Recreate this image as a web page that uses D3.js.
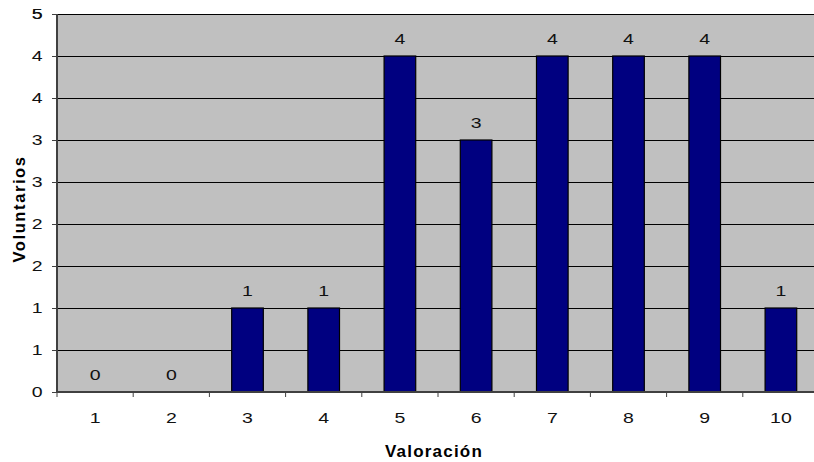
<!DOCTYPE html>
<html><head><meta charset="utf-8">
<script src="https://cdn.jsdelivr.net/npm/d3@7"></script>
<style>body{margin:0;background:#fff}svg{display:block}text{font-family:"Liberation Sans",Arial,sans-serif}</style>
</head><body><svg id="c" width="814" height="462"></svg>
<script>
const categories = ["1","2","3","4","5","6","7","8","9","10"];
const values = [0,0,1,1,4,3,4,4,4,1];
const yTicks = [0,0.5,1,1.5,2,2.5,3,3.5,4,4.5];
const xTitle = "Valoración";
const yTitle = "Voluntarios";

const svg = d3.select("#c");
const L = 57, T = 14, B = 392, bandW = 76.2;
const R = L + bandW * categories.length;
const SX = 1.3, FS = 15;
const x = d3.scaleBand().domain(categories).range([L, R]).paddingInner(0.585).paddingOuter(0.2925);
const y = d3.scaleLinear().domain([0, 4.5]).range([B, T]);
const fmt = v => String(Math.floor(v + 0.5));
const FONT = '"Liberation Sans",Arial,sans-serif';

svg.append("rect").attr("x", L).attr("y", T).attr("width", R - L).attr("height", B - T).attr("fill", "#c0c0c0");
svg.append("line").attr("x1", L).attr("x2", R).attr("y1", T + 0.5).attr("y2", T + 0.5).attr("stroke", "#808080");
svg.selectAll(".grid").data(yTicks.filter(d => d > 0)).join("line")
  .attr("x1", L).attr("x2", R).attr("y1", d => Math.round(y(d)) + 0.5).attr("y2", d => Math.round(y(d)) + 0.5)
  .attr("stroke", "#000").attr("stroke-width", 1);

svg.selectAll(".bar").data(values).join("rect")
  .attr("x", (d, i) => x(categories[i])).attr("width", x.bandwidth())
  .attr("y", d => y(d)).attr("height", d => B - y(d))
  .attr("fill", "#000080").attr("stroke", "#000").attr("stroke-width", 1.2);

svg.selectAll(".lbl").data(values).join("text")
  .attr("transform", (d, i) => `translate(${x(categories[i]) + x.bandwidth() / 2},${y(d) - 11.7}) scale(${SX},1)`)
  .attr("text-anchor", "middle")
  .attr("font-size", FS).attr("fill", "#111").text(d => d);

// y axis
const ya = svg.append("g").attr("transform", `translate(${L},0)`)
  .call(d3.axisLeft(y).tickValues(yTicks.concat([4.5])).tickSize(5).tickPadding(6).tickFormat(fmt));
ya.select(".domain").attr("stroke", "#404040").attr("stroke-width", 2).attr("d", `M0,${T}V${B}`);
ya.selectAll(".tick line").attr("stroke", "#404040");
ya.selectAll(".tick text").attr("font-size", FS).attr("fill", "#111").attr("font-family", FONT)
  .attr("transform", `scale(${SX},1)`);

// x axis
const xa = svg.append("g").attr("transform", `translate(0,${B})`)
  .call(d3.axisBottom(x).tickSize(0).tickPadding(20.5));
xa.select(".domain").attr("stroke", "#404040").attr("stroke-width", 2).attr("d", `M${L},0H${R}`);
xa.selectAll(".tick text").attr("font-size", FS).attr("fill", "#111").attr("font-family", FONT)
  .attr("transform", `scale(${SX},1)`);
xa.selectAll(".sep").data(d3.range(categories.length + 1)).join("line")
  .attr("x1", i => L + i * bandW).attr("x2", i => L + i * bandW).attr("y1", 0).attr("y2", 5)
  .attr("stroke", "#404040");

svg.append("text").attr("x", 434).attr("y", 457).attr("text-anchor", "middle")
  .attr("font-size", 17).attr("font-weight", "bold").attr("letter-spacing", 1.2).text(xTitle);
svg.append("text").attr("transform", "translate(25,209) rotate(-90)").attr("text-anchor", "middle")
  .attr("font-size", 16.5).attr("font-weight", "bold").attr("letter-spacing", 1.6).text(yTitle);
</script></body></html>
